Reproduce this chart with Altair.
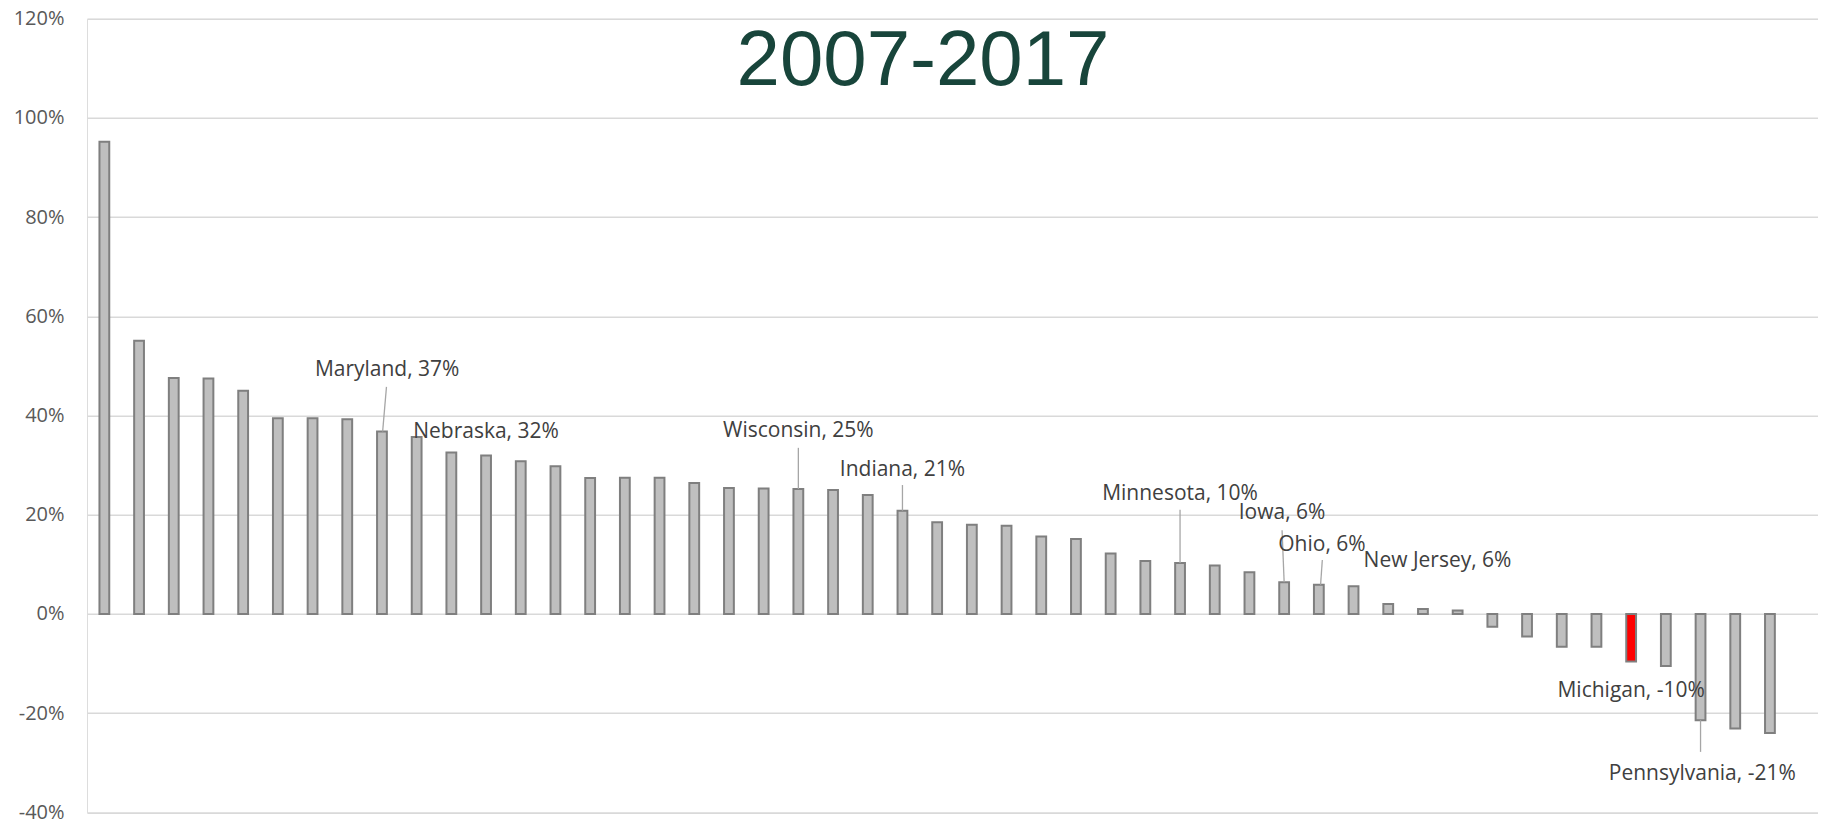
import altair as alt
import pandas as pd

# ---- data (percent change 2007-2017) ----
title_text = "2007-2017"
values_pct = [95.2, 55.1, 47.6, 47.5, 45.0, 39.45, 39.45, 39.25, 36.8, 35.7,
              32.55, 31.95, 30.8, 29.8, 27.4, 27.45, 27.45, 26.4, 25.4, 25.3,
              25.2, 25.0, 24.0, 20.8, 18.5, 18.0, 17.8, 15.6, 15.1, 12.2,
              10.7, 10.3, 9.8, 8.4, 6.4, 5.9, 5.6, 2.0, 1.0, 0.7,
              -2.55, -4.56, -6.6, -6.6, -9.6, -10.5, -21.4, -23.1, -24.0]
highlight_bar = 45  # Michigan

# labelled states
label_text = ["Maryland, 37%", "Nebraska, 32%", "Wisconsin, 25%", "Indiana, 21%",
              "Minnesota, 10%", "Iowa, 6%", "Ohio, 6%", "New Jersey, 6%",
              "Michigan, -10%", "Pennsylvania, -21%"]
label_x = [9.15, 12.0, 21.0, 24.0, 32.0, 34.94, 36.09, 39.42, 45.0, 47.05]
label_y = [0.480, 0.354, 0.356, 0.278, 0.230, 0.191, 0.128, 0.095, -0.167, -0.335]

# leader lines (start near label, end at bar)
lead_x1 = [9.13, 21.0, 24.0, 32.0, 34.94, 36.1, 47.0]
lead_y1 = [0.458, 0.335, 0.260, 0.210, 0.169, 0.109, -0.214]
lead_x2 = [9.02, 21.0, 24.0, 32.0, 35.0, 36.05, 47.0]
lead_y2 = [0.368, 0.252, 0.208, 0.103, 0.064, 0.059, -0.278]

y_ticks = [-0.4, -0.2, 0.0, 0.2, 0.4, 0.6, 0.8, 1.0, 1.2]

# layout
PLOT_W = 1731
PLOT_H = 793.6
BAND = 34.7
x_max = 0.5 + PLOT_W / BAND   # one empty slot remains on the right

bars = pd.DataFrame({
    "idx": list(range(1, len(values_pct) + 1)),
    "value": [v / 100 for v in values_pct],
    "base": [0.0] * len(values_pct),
})
bars["kind"] = ["highlight" if i == highlight_bar else "normal" for i in bars["idx"]]

labels = pd.DataFrame({"x": label_x, "y": label_y, "label": label_text})
leaders = pd.DataFrame({"x1": lead_x1, "y1": lead_y1, "x2": lead_x2, "y2": lead_y2})
title_df = pd.DataFrame({"t": [title_text]})

x_scale = alt.Scale(domain=[0.5, x_max], nice=False, zero=False, padding=0)
y_scale = alt.Scale(domain=[-0.4, 1.2], nice=False, padding=0)

bar_layer = alt.Chart(bars).mark_bar(size=9.8, stroke="#7F7F7F", strokeWidth=2).encode(
    x=alt.X("idx:Q", scale=x_scale, axis=None),
    y=alt.Y("value:Q", scale=y_scale,
            axis=alt.Axis(values=y_ticks, title=None, domain=False, ticks=False,
                          labelExpr="round(datum.value*100) + '%'",
                          labelFont="Open Sans", labelFontSize=20, labelColor="#595959",
                          labelPadding=23, grid=True, gridColor="#D9D9D9", gridWidth=1.5)),
    y2="base:Q",
    fill=alt.Fill("kind:N", scale=alt.Scale(domain=["normal", "highlight"],
                                            range=["#BFBFBF", "#FF0000"]), legend=None),
)

leader_layer = alt.Chart(leaders).mark_rule(color="#A6A6A6", strokeWidth=1.3).encode(
    x=alt.X("x1:Q", scale=x_scale), y=alt.Y("y1:Q", scale=y_scale),
    x2="x2:Q", y2="y2:Q",
)

label_layer = alt.Chart(labels).mark_text(
    font="Open Sans", fontSize=21, color="#404040", align="center", baseline="alphabetic"
).encode(
    x=alt.X("x:Q", scale=x_scale), y=alt.Y("y:Q", scale=y_scale), text="label:N"
)

title_layer = alt.Chart(title_df).mark_text(
    font="Liberation Sans", fontSize=78, color="#18453B", align="center", baseline="alphabetic"
).encode(text="t:N", x=alt.value(836), y=alt.value(66.2))

chart = alt.layer(bar_layer, leader_layer, label_layer, title_layer).properties(
    width=PLOT_W, height=PLOT_H,
    autosize=alt.AutoSizeParams(type="none"),
    padding={"left": 79, "top": 10.8, "right": 0, "bottom": 10},
).configure_view(strokeWidth=0).configure(background="white")

chart.save("out.html", embed_options={"renderer": "svg", "actions": False})
